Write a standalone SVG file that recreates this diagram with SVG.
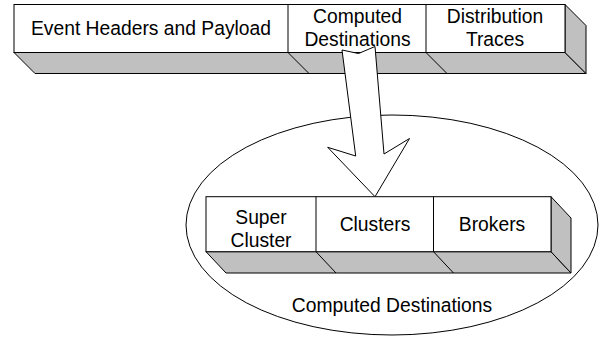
<svg xmlns="http://www.w3.org/2000/svg" width="600" height="337" viewBox="0 0 600 337">
<style>
.front{fill:#fff;stroke:#000;stroke-width:1}
.shade{fill:#c0c0c0;stroke:#000;stroke-width:1;stroke-linejoin:round}
.ln{stroke:#000;stroke-width:1;fill:none}
text{font-family:"Liberation Sans",Arial,sans-serif;font-size:19.3px;fill:#000;text-anchor:middle}
</style>
<rect width="600" height="337" fill="#fff"/>
<g id="event-record">
  <polygon class="shade" points="14,52.5 565,52.5 586,73.5 35,73.5"/>
  <polygon class="shade" points="565,4.5 586,25.5 586,73.5 565,52.5"/>
  <line class="ln" x1="288" y1="52.5" x2="309" y2="73.5"/>
  <line class="ln" x1="426" y1="52.5" x2="447" y2="73.5"/>
  <rect class="front" x="14" y="4.5" width="551" height="48"/>
  <line class="ln" x1="288" y1="4.5" x2="288" y2="52.5"/>
  <line class="ln" x1="426" y1="4.5" x2="426" y2="52.5"/>
  <text x="151" y="35">Event Headers and Payload</text>
  <text x="357.5" y="23.3">Computed</text>
  <text x="357.5" y="45.8">Destinations</text>
  <text x="495" y="23.3">Distribution</text>
  <text x="495" y="45.8">Traces</text>
</g>
<g id="computed-destinations">
  <ellipse class="ln" cx="392" cy="225" rx="206" ry="110"/>
  <polygon class="shade" points="206,251.7 551,251.7 571,273 226,273"/>
  <polygon class="shade" points="551,196.7 571,218 571,273 551,251.7"/>
  <line class="ln" x1="316" y1="251.7" x2="336" y2="273"/>
  <line class="ln" x1="433.5" y1="251.7" x2="453.5" y2="273"/>
  <rect class="front" x="206" y="196.7" width="345" height="55"/>
  <line class="ln" x1="316" y1="196.7" x2="316" y2="251.7"/>
  <line class="ln" x1="433.5" y1="196.7" x2="433.5" y2="251.7"/>
  <text x="261" y="224">Super</text>
  <text x="261" y="246.5">Cluster</text>
  <text x="375" y="231">Clusters</text>
  <text x="492" y="231">Brokers</text>
  <text x="392" y="312">Computed Destinations</text>
</g>
<g id="connectors">
  <polygon class="front" stroke-linejoin="miter" points="342,50 358.5,53.5 375,46.5 384,154 409.5,138.5 375,196.7 327.7,147.3 355.7,156"/>
</g>
</svg>
